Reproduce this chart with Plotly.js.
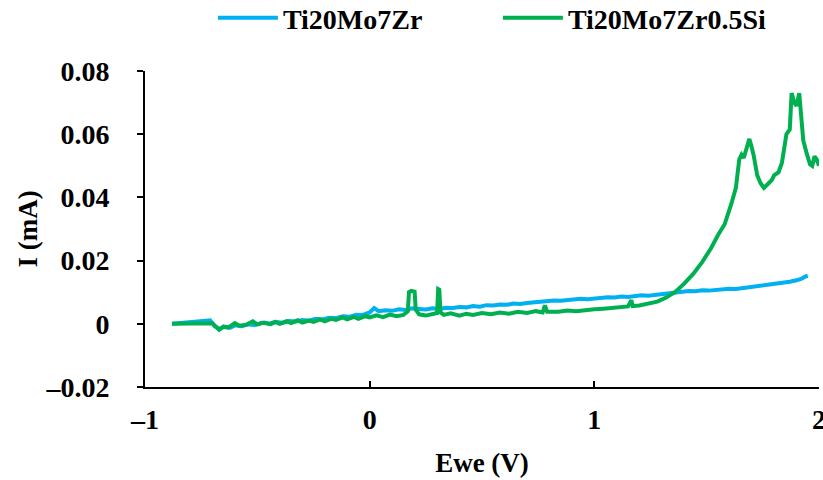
<!DOCTYPE html>
<html>
<head>
<meta charset="utf-8">
<script src="https://cdn.plot.ly/plotly-3.0.1.min.js"></script>
<style>html,body{margin:0;padding:0;background:#fff;}#chart{width:823px;height:480px;}</style>
</head>
<body>
<div id="chart"></div>
<script>
// Series names
const seriesNames = ["Ti20Mo7Zr", "Ti20Mo7Zr0.5Si"];

// Ti20Mo7Zr: Ewe (V) and I (mA)
const blueX = [-0.88,-0.80,-0.74,-0.71,-0.69,-0.67,-0.65,-0.62,-0.60,-0.57,-0.54,-0.51,-0.48,-0.45,-0.42,-0.39,-0.36,-0.33,-0.30,-0.27,-0.24,-0.21,-0.18,-0.15,-0.12,-0.09,-0.06,-0.03,0.00,0.02,0.04,0.07,0.10,0.13,0.16,0.19,0.22,0.25,0.28,0.31,0.34,0.37,0.40,0.43,0.46,0.49,0.52,0.55,0.58,0.61,0.64,0.67,0.70,0.73,0.76,0.79,0.82,0.85,0.88,0.91,0.94,0.97,1.00,1.03,1.06,1.09,1.12,1.15,1.18,1.21,1.24,1.27,1.30,1.33,1.36,1.39,1.42,1.45,1.48,1.51,1.54,1.57,1.60,1.63,1.66,1.69,1.72,1.75,1.78,1.81,1.84,1.87,1.90,1.92,1.94,1.95];
const blueY = [0.0000,0.0004,0.0008,0.0011,-0.0008,-0.0016,-0.0010,-0.0012,-0.0005,-0.0008,-0.0002,-0.0004,0.0003,0.0000,0.0006,0.0003,0.0009,0.0007,0.0012,0.0010,0.0016,0.0014,0.0019,0.0018,0.0024,0.0022,0.0029,0.0028,0.0036,0.0050,0.0040,0.0043,0.0041,0.0046,0.0044,0.0049,0.0047,0.0045,0.0049,0.0047,0.0051,0.0050,0.0053,0.0052,0.0056,0.0054,0.0059,0.0058,0.0061,0.0060,0.0064,0.0063,0.0066,0.0068,0.0071,0.0070,0.0074,0.0073,0.0076,0.0077,0.0079,0.0078,0.0081,0.0082,0.0084,0.0083,0.0086,0.0085,0.0088,0.0090,0.0089,0.0092,0.0093,0.0095,0.0099,0.0102,0.0104,0.0103,0.0106,0.0105,0.0108,0.0109,0.0111,0.0110,0.0113,0.0114,0.0117,0.0119,0.0122,0.0126,0.0129,0.0133,0.0138,0.0142,0.0150,0.0152];

// Ti20Mo7Zr0.5Si: Ewe (V) and I (mA)
const greenX = [-0.88,-0.80,-0.72,-0.70,-0.68,-0.67,-0.65,-0.63,-0.60,-0.58,-0.55,-0.52,-0.50,-0.47,-0.44,-0.42,-0.40,-0.37,-0.35,-0.32,-0.30,-0.27,-0.25,-0.22,-0.20,-0.17,-0.15,-0.12,-0.10,-0.07,-0.05,-0.02,0.00,0.03,0.06,0.09,0.12,0.15,0.17,0.175,0.185,0.20,0.205,0.22,0.25,0.28,0.30,0.305,0.31,0.315,0.33,0.36,0.40,0.43,0.46,0.50,0.54,0.58,0.62,0.66,0.70,0.74,0.77,0.78,0.79,0.84,0.88,0.92,0.96,1.00,1.04,1.08,1.12,1.15,1.165,1.17,1.20,1.24,1.28,1.32,1.36,1.40,1.44,1.48,1.52,1.55,1.58,1.61,1.63,1.645,1.655,1.665,1.675,1.69,1.70,1.71,1.725,1.74,1.755,1.77,1.79,1.80,1.82,1.835,1.845,1.855,1.87,1.878,1.89,1.90,1.912,1.92,1.93,1.945,1.96,1.97,1.98,1.99,2.00];
const greenY = [0.0000,0.0000,0.0001,0.0002,-0.0012,-0.0019,-0.0008,-0.0012,0.0002,-0.0006,-0.0003,0.0008,-0.0002,0.0004,-0.0001,0.0006,0.0000,0.0008,0.0002,0.0011,0.0004,0.0010,0.0006,0.0014,0.0008,0.0016,0.0012,0.0020,0.0014,0.0022,0.0016,0.0024,0.0020,0.0027,0.0021,0.0029,0.0024,0.0028,0.0040,0.0100,0.0104,0.0102,0.0045,0.0030,0.0026,0.0029,0.0034,0.0110,0.0108,0.0036,0.0028,0.0033,0.0026,0.0032,0.0028,0.0034,0.0030,0.0036,0.0032,0.0038,0.0034,0.0040,0.0036,0.0058,0.0038,0.0038,0.0042,0.0040,0.0044,0.0046,0.0048,0.0050,0.0052,0.0055,0.0075,0.0056,0.0058,0.0063,0.0070,0.0083,0.0101,0.0127,0.0158,0.0195,0.0240,0.0280,0.0315,0.0380,0.0430,0.0520,0.0535,0.0525,0.0550,0.0585,0.0560,0.0530,0.0470,0.0445,0.0430,0.0440,0.0455,0.0470,0.0480,0.0510,0.0560,0.0600,0.0615,0.0730,0.0700,0.0690,0.0730,0.0660,0.0580,0.0540,0.0505,0.0500,0.0530,0.0520,0.0500];

// Axis ticks
const xTicks = [-1, 0, 1, 2];
const xTickText = ["–1", "0", "1", "2"];
const yTicks = [-0.02, 0, 0.02, 0.04, 0.06, 0.08];
const yTickText = ["–0.02", "0", "0.02", "0.04", "0.06", "0.08"];

const serif = "Liberation Serif";

const traces = [
  {x: blueX, y: blueY, name: seriesNames[0], type: "scatter", mode: "lines",
   line: {color: "#00B0F0", width: 4, shape: "linear"}},
  {x: greenX, y: greenY, name: seriesNames[1], type: "scatter", mode: "lines",
   line: {color: "#00B050", width: 4, shape: "linear"}}
];

const layout = {
  width: 823, height: 480,
  margin: {l: 145, r: 4, t: 71, b: 93, pad: 0},
  paper_bgcolor: "#fff", plot_bgcolor: "#fff",
  font: {family: serif, color: "#000", size: 22, weight: "bold"},
  showlegend: true,
  legend: {orientation: "h", xref: "container", yref: "container",
           x: 0.605, xanchor: "center", y: 0.9625, yanchor: "middle",
           font: {family: serif, size: 28, weight: "bold", color: "#000"},
           bgcolor: "rgba(0,0,0,0)", traceorder: "normal",
           itemwidth: 60, entrywidth: 210, borderwidth: 0},
  xaxis: {
    range: [-1, 2], tickvals: xTicks, ticktext: xTickText,
    showgrid: false, zeroline: false, showline: true, linecolor: "#000", linewidth: 2,
    ticks: "inside", ticklen: 6, tickwidth: 2, tickcolor: "#000",
    ticklabelstandoff: 6, ticklabeloverflow: "allow",
    tickfont: {family: serif, size: 28, weight: "bold", color: "#000"},
    title: {text: "Ewe (V)", font: {family: serif, size: 27, weight: "bold", color: "#000"}, standoff: 20},
    automargin: false
  },
  yaxis: {
    range: [-0.02, 0.08], tickvals: yTicks, ticktext: yTickText,
    showgrid: false, zeroline: false, showline: true, linecolor: "#000", linewidth: 2,
    ticks: "outside", ticklen: 6, tickwidth: 2, tickcolor: "#000",
    ticklabelstandoff: 22,
    tickfont: {family: serif, size: 28, weight: "bold", color: "#000"},
    title: {text: "I (mA)", font: {family: serif, size: 27, weight: "bold", color: "#000"}, standoff: 0},
    automargin: false
  }
};

Plotly.newPlot("chart", traces, layout, {displayModeBar: false, staticPlot: true});
</script>
</body>
</html>
